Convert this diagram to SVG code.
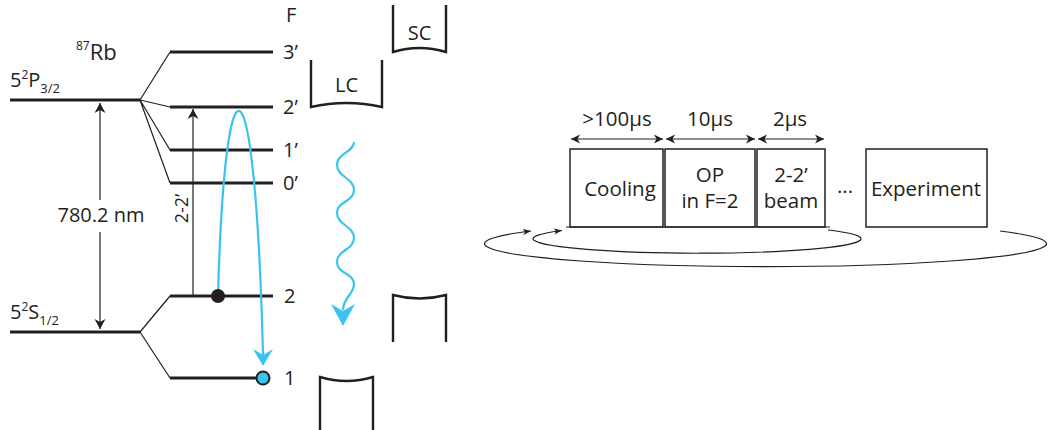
<svg xmlns="http://www.w3.org/2000/svg" width="1049" height="430" viewBox="0 0 1049 430">
<style>
  text { font-family: "Open Sans", "Liberation Sans", sans-serif; fill: #231f20; }
  .lvl { stroke: #231f20; stroke-width: 3; fill: none; }
  .thin { stroke: #231f20; stroke-width: 1.2; fill: none; }
  .mir { stroke: #231f20; stroke-width: 2.4; fill: none; }
  .box { stroke: #231f20; stroke-width: 1.5; fill: #ffffff; }
  .blue { stroke: #3bc3f0; stroke-width: 2.2; fill: none; }
  .lbl { font-size: 20px; }
  .sm { font-size: 20.5px; text-anchor: middle; }
</style>
<defs>
  <marker id="ah" viewBox="-11 -6 12 12" refX="0" refY="0" markerWidth="12" markerHeight="12" orient="auto-start-reverse" markerUnits="userSpaceOnUse">
    <path d="M0,0 L-10,-5.5 L-7,0 L-10,5.5 Z" fill="#231f20"/>
  </marker>
  <marker id="ah2" viewBox="-11 -6 12 12" refX="0" refY="0" markerWidth="12" markerHeight="12" orient="auto-start-reverse" markerUnits="userSpaceOnUse">
    <path d="M0,0 L-9,-4.5 L-6.5,0 L-9,4.5 Z" fill="#231f20"/>
  </marker>
  <marker id="ah3" viewBox="-9 -5 10 10" refX="0" refY="0" markerWidth="10" markerHeight="10" orient="auto" markerUnits="userSpaceOnUse">
    <path d="M0,0 L-8,-3 L-6,0 L-8,3 Z" fill="#231f20"/>
  </marker>
</defs>

<!-- Energy levels -->
<g id="levels">
  <line class="lvl" x1="10" y1="100" x2="140" y2="100"/>
  <line class="lvl" x1="10" y1="332" x2="140" y2="332"/>
  <line class="lvl" x1="170" y1="52" x2="273" y2="52"/>
  <line class="lvl" x1="170" y1="107" x2="273" y2="107"/>
  <line class="lvl" x1="170" y1="150" x2="273" y2="150"/>
  <line class="lvl" x1="170" y1="183" x2="273" y2="183"/>
  <line class="lvl" x1="170" y1="296" x2="273" y2="296"/>
  <line class="lvl" x1="170" y1="378" x2="263" y2="378"/>
  <path class="thin" d="M140,100 L170,52 M140,100 L170,107 M140,100 L170,150 M140,100 L170,183"/>
  <path class="thin" d="M140,332 L170,296 M140,332 L170,378"/>
</g>

<g id="level-labels">
  <text class="lbl" x="286" y="22">F</text>
  <text class="lbl" x="283" y="59">3’</text>
  <text class="lbl" x="283" y="114">2’</text>
  <text class="lbl" x="283" y="157">1’</text>
  <text class="lbl" x="283" y="190">0’</text>
  <text class="lbl" x="284" y="303">2</text>
  <text class="lbl" x="284" y="385">1</text>
  <text x="10" y="87" font-size="20">5<tspan font-size="12" dy="-8">2</tspan><tspan dy="8">P</tspan><tspan font-size="13" dy="6">3/2</tspan></text>
  <text x="10" y="319" font-size="20">5<tspan font-size="12" dy="-8">2</tspan><tspan dy="8">S</tspan><tspan font-size="13" dy="6">1/2</tspan></text>
  <text x="76" y="60" font-size="22"><tspan font-size="12" dy="-10">87</tspan><tspan dy="10">Rb</tspan></text>
  <text class="lbl" x="101" y="222" text-anchor="middle">780.2 nm</text>
  <text font-size="18" text-anchor="middle" transform="translate(188,208.5) rotate(-90)">2-2’</text>
</g>

<g id="connectors">
  <line class="thin" x1="100" y1="200" x2="100" y2="103" marker-end="url(#ah)"/>
  <line class="thin" x1="100" y1="232" x2="100" y2="329" marker-end="url(#ah)"/>
  <line class="thin" x1="193" y1="296" x2="193" y2="109" marker-end="url(#ah)"/>
  <path class="blue" d="M218,296 C225,40 255,40 263,355"/>
  <path d="M263,366 L253,349 L263,355 L273,349 Z" fill="#3bc3f0"/>
  <path class="blue" d="M354,142 C354,152 337,153 337,165 C337,177 354,178 354,190 C354,202 337,201 337,213 C337,225 354,226 354,238 C354,250 337,250 337,262 C337,274 354,273 354,284 C354,294 343,298 343,310"/>
  <path d="M343,326 L331,304 L343,311 L355,304 Z" fill="#3bc3f0"/>
</g>

<g id="atoms">
  <circle cx="218" cy="296" r="7" fill="#231f20"/>
  <circle cx="263" cy="378" r="6.5" fill="#3bc3f0" stroke="#231f20" stroke-width="2"/>
</g>

<g id="cavities">
  <path class="mir" d="M393,5 L393,52 Q419.5,44 446,52 L446,5"/>
  <text class="lbl" x="419.5" y="40" text-anchor="middle">SC</text>
  <path class="mir" d="M311,60 L311,107 Q346.5,99 382,107 L382,60"/>
  <text class="lbl" x="346.5" y="92" text-anchor="middle">LC</text>
  <path class="mir" d="M393,342 L393,295 Q419.5,302 446,295 L446,342"/>
  <path class="mir" d="M320,430 L320,377 Q346.5,385 373,377 L373,430"/>
</g>

<!-- Sequence -->
<g id="sequence-loops">
  <path class="thin" d="M1000,231 A281,23 0 1 1 531,231" marker-end="url(#ah3)"/>
  <path class="thin" d="M828,230 A164,14.5 0 1 1 562,230.5" marker-end="url(#ah3)"/>
</g>

<g id="box-cooling">
  <rect class="box" x="570" y="149" width="93" height="78"/>
  <text class="sm" x="620" y="196">Cooling</text>
</g>
<g id="box-op">
  <rect class="box" x="665" y="149" width="90" height="78"/>
  <text class="sm" x="710" y="182">OP</text>
  <text class="sm" x="710" y="208">in F=2</text>
</g>
<g id="box-beam">
  <rect class="box" x="757" y="149" width="68" height="78"/>
  <text class="sm" x="791" y="182">2-2’</text>
  <text class="sm" x="791" y="208">beam</text>
</g>
<g id="box-experiment">
  <rect class="box" x="866" y="149" width="121" height="78"/>
  <text class="sm" x="926" y="196">Experiment</text>
</g>
<line class="thin" x1="566" y1="227" x2="830" y2="227" stroke-width="1.8"/>
<text class="sm" x="845" y="193">...</text>

<g id="durations">
  <line class="thin" x1="571" y1="139" x2="663" y2="139" marker-start="url(#ah2)" marker-end="url(#ah2)"/>
  <line class="thin" x1="666" y1="139" x2="755" y2="139" marker-start="url(#ah2)" marker-end="url(#ah2)"/>
  <line class="thin" x1="758" y1="139" x2="824" y2="139" marker-start="url(#ah2)" marker-end="url(#ah2)"/>
  <text class="sm" x="617" y="126">&gt;100μs</text>
  <text class="sm" x="710" y="126">10μs</text>
  <text class="sm" x="790" y="126">2μs</text>
</g>
</svg>
